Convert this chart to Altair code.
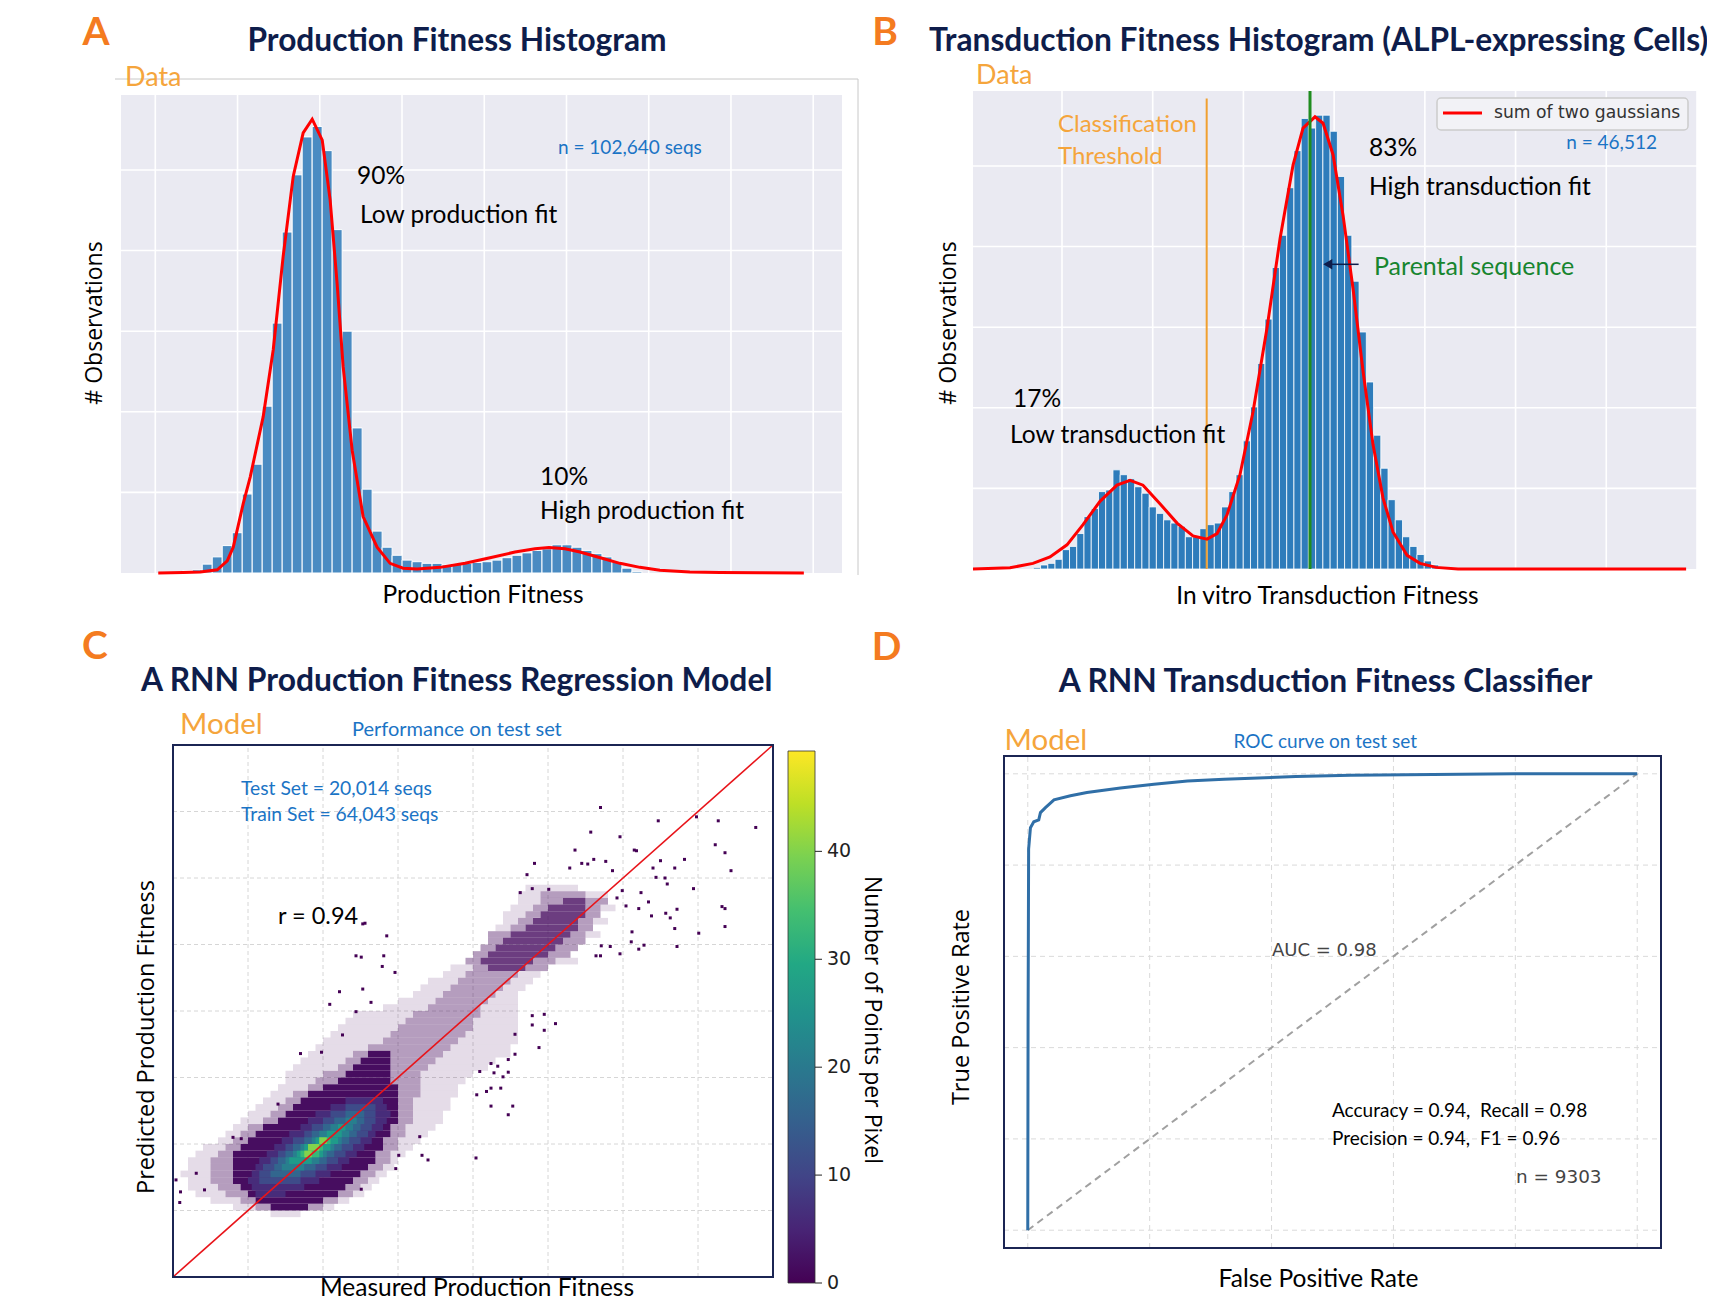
import altair as alt
import pandas as pd

# =====================================================================
# Panel A - production fitness histogram (x and y in grid units)
# =====================================================================
A_BIN_START = 0.085
A_BIN_WIDTH = 0.1215
A_COUNTS = [0.01, 0.015, 0.025, 0.04, 0.11, 0.20, 0.34, 0.50, 0.98, 1.35,
            2.07, 3.10, 4.23, 4.94, 5.41, 5.54, 5.24, 4.26, 3.00, 1.80,
            1.04, 0.52, 0.32, 0.22, 0.16, 0.14, 0.12, 0.12, 0.10, 0.11,
            0.12, 0.13, 0.14, 0.16, 0.19, 0.22, 0.25, 0.28, 0.30, 0.35,
            0.35, 0.32, 0.28, 0.24, 0.20, 0.14, 0.06, 0.02]
A_FIT_X = [0.036, 0.34, 0.547, 0.753, 0.875, 0.948, 1.069, 1.154, 1.312, 1.434,
           1.555, 1.677, 1.798, 1.908, 2.03, 2.126, 2.211, 2.284, 2.394, 2.527,
           2.697, 2.855, 3.013, 3.183, 3.463, 3.767, 4.07, 4.374, 4.617, 4.787,
           4.982, 5.164, 5.443, 5.65, 5.893, 6.136, 6.5, 6.865, 7.351, 7.886]
A_FIT_Y = [0, 0.005, 0.012, 0.04, 0.15, 0.32, 0.86, 1.19, 1.94, 2.77,
           3.93, 4.92, 5.46, 5.63, 5.37, 4.63, 3.59, 2.56, 1.52, 0.70,
           0.32, 0.12, 0.06, 0.05, 0.07, 0.12, 0.19, 0.26, 0.30, 0.315,
           0.30, 0.26, 0.18, 0.12, 0.07, 0.035, 0.012, 0.005, 0.002, 0.0]
A_GRID_X = [0, 1, 2, 3, 4, 5, 6, 7, 8]
A_GRID_Y = [1, 2, 3, 4, 5]
A_XDOM = [-0.417, 8.35]
A_YDOM = [0, 5.93]

# =====================================================================
# Panel B - transduction fitness histogram
# =====================================================================
B_BIN_START = -0.316
B_BIN_WIDTH = 0.0798
B_COUNTS = [0.02, 0.05, 0.07, 0.12, 0.24, 0.28, 0.44, 0.65, 0.75, 0.96,
            0.98, 1.23, 1.17, 1.12, 1.02, 0.94, 0.77, 0.69, 0.61, 0.57,
            0.53, 0.40, 0.40, 0.50, 0.55, 0.57, 0.77, 0.96, 1.17, 1.59,
            2.01, 2.55, 3.10, 3.74, 4.14, 4.73, 5.19, 5.59, 5.47, 5.63,
            5.63, 5.43, 4.87, 4.14, 3.57, 2.94, 2.32, 1.66, 1.25, 0.86,
            0.61, 0.40, 0.28, 0.18, 0.10, 0.05, 0.02]
B_FIT_X = [-0.981, -0.573, -0.32, -0.132, 0.055, 0.232, 0.419, 0.606, 0.750, 0.893,
           1.080, 1.268, 1.444, 1.599, 1.709, 1.819, 1.962, 2.106, 2.260, 2.404,
           2.547, 2.657, 2.789, 2.878, 2.988, 3.098, 3.208, 3.319, 3.429, 3.539,
           3.649, 3.804, 3.947, 4.123, 4.366, 4.829, 5.932, 6.880]
B_FIT_Y = [0, 0.015, 0.07, 0.15, 0.30, 0.55, 0.84, 1.04, 1.10, 1.04,
           0.81, 0.57, 0.41, 0.37, 0.44, 0.67, 1.17, 1.95, 2.99, 4.10,
           5.01, 5.47, 5.61, 5.53, 5.14, 4.39, 3.48, 2.45, 1.54, 0.88,
           0.46, 0.17, 0.07, 0.02, 0.0, 0.0, 0.0, 0.0]
B_THRESHOLD_X = 1.595
B_THRESHOLD_TOP = 5.836
B_PARENT_X = 2.734
B_ARROW_X = [3.27, 2.93]
B_ARROW_Y = 3.78
B_GRID_X = [0, 1, 2, 3, 4, 5, 6, 7]
B_GRID_Y = [1, 2, 3, 4, 5]
B_XDOM = [-0.981, 7.0]
B_YDOM = [0, 5.93]

# =====================================================================
# Panel C - 2D density (runs of 0.1-high cells: (y_bottom, x_start, x_end))
# =====================================================================
C_SPARSE = [
    (4.8, 3.7, 4.4), (4.7, 3.6, 3.9), (4.7, 4.5, 4.8), (4.6, 3.6, 3.9),
    (4.5, 3.5, 3.8), (4.5, 4.7, 4.9), (4.4, 3.4, 3.7), (4.3, 3.4, 3.6),
    (4.3, 4.6, 4.8), (4.2, 3.3, 3.5), (4.1, 4.5, 4.7), (3.7, 4.1, 4.4),
    (3.6, 2.7, 3.0), (3.5, 2.6, 2.9), (3.5, 3.6, 3.9), (3.4, 2.4, 2.8),
    (3.4, 3.5, 3.8), (3.3, 2.3, 2.7), (3.3, 3.4, 3.7), (3.2, 2.2, 2.6),
    (3.2, 3.3, 3.6), (3.1, 2.0, 2.5), (3.1, 3.2, 3.6), (3.0, 1.8, 2.4),
    (3.0, 3.1, 3.6), (2.9, 1.4, 2.2), (2.9, 3.1, 3.6), (2.8, 1.3, 2.1),
    (2.8, 3.0, 3.6), (2.7, 1.2, 2.0), (2.7, 3.0, 3.6), (2.6, 1.1, 1.9),
    (2.6, 2.9, 3.6), (2.5, 1.0, 1.8), (2.5, 2.8, 3.6), (2.4, 0.9, 1.6),
    (2.4, 2.7, 3.5), (2.3, 0.8, 1.4), (2.3, 2.6, 3.5), (2.2, 0.7, 1.3),
    (2.2, 2.5, 3.3), (2.1, 0.6, 1.2), (2.1, 2.4, 3.2), (2.0, 0.5, 1.0),
    (2.0, 2.3, 3.0), (1.9, 0.5, 0.9), (1.9, 2.3, 2.9), (1.8, 0.4, 0.8),
    (1.8, 2.3, 2.8), (1.7, 0.3, 0.6), (1.7, 2.3, 2.8), (1.6, 0.2, 0.5),
    (1.6, 2.2, 2.7), (1.5, 0.1, 0.4), (1.5, 2.2, 2.7), (1.4, 0.0, 0.3),
    (1.4, 2.2, 2.6), (1.3, -0.1, 0.2), (1.3, 2.2, 2.6), (1.2, -0.2, 0.0),
    (1.2, 2.1, 2.5), (1.1, -0.3, -0.1), (1.1, 2.1, 2.4), (1.0, -0.4, -0.2),
    (1.0, 2.0, 2.3), (0.9, -0.6, -0.3), (0.9, 2.0, 2.2), (0.8, -0.7, -0.4),
    (0.8, 1.9, 2.1), (0.7, -0.8, -0.5), (0.7, 1.9, 2.0), (0.6, -0.8, -0.5),
    (0.6, 1.8, 1.95), (0.5, -0.9, -0.5), (0.5, 1.7, 1.85), (0.4, -0.8, -0.5),
    (0.4, 1.6, 1.75), (0.3, -0.8, -0.4), (0.3, 1.5, 1.65), (0.2, -0.7, -0.3),
    (0.2, 1.4, 1.55), (0.1, -0.5, -0.1), (0.1, 1.2, 1.35), (0.0, -0.2, 0.1),
    (0.0, 1.0, 1.15), (-0.1, 0.3, 0.7),
]
C_MEDIUM = [
    (4.7, 3.9, 4.5), (4.6, 3.9, 4.2), (4.6, 4.5, 4.8), (4.5, 3.8, 4.0),
    (4.5, 4.5, 4.7), (4.4, 3.7, 3.9), (4.4, 4.5, 4.7), (4.3, 3.6, 3.8),
    (4.3, 4.4, 4.6), (4.2, 3.5, 3.7), (4.2, 4.4, 4.6), (4.1, 3.2, 3.5),
    (4.1, 4.3, 4.5), (4.0, 3.2, 3.4), (4.0, 4.2, 4.5), (3.9, 3.1, 3.3),
    (3.9, 4.1, 4.4), (3.8, 3.0, 3.2), (3.8, 4.0, 4.3), (3.7, 2.9, 3.1),
    (3.7, 3.8, 4.1), (3.6, 3.0, 3.2), (3.6, 3.7, 4.0), (3.5, 2.9, 3.6),
    (3.4, 2.8, 3.5), (3.3, 2.7, 3.4), (3.2, 2.6, 3.3), (3.1, 2.5, 3.2),
    (3.0, 2.4, 3.1), (2.9, 2.2, 3.1), (2.8, 2.1, 3.0), (2.7, 2.0, 3.0),
    (2.6, 1.9, 2.9), (2.5, 1.8, 2.8), (2.4, 1.6, 2.7), (2.3, 1.4, 1.6),
    (2.3, 1.9, 2.6), (2.2, 1.3, 1.5), (2.2, 1.9, 2.5), (2.1, 1.2, 1.4),
    (2.1, 1.9, 2.4), (2.0, 1.0, 1.3), (2.0, 1.9, 2.3), (1.9, 0.9, 1.2),
    (1.9, 1.9, 2.3), (1.8, 0.8, 1.0), (1.8, 2.0, 2.3), (1.7, 0.6, 0.8),
    (1.7, 2.0, 2.3), (1.6, 0.5, 0.7), (1.6, 2.0, 2.2), (1.5, 0.4, 0.6),
    (1.5, 2.0, 2.2), (1.4, 0.3, 0.5), (1.4, 2.0, 2.2), (1.3, 0.2, 0.4),
    (1.3, 2.0, 2.2), (1.2, 0.0, 0.2), (1.2, 1.9, 2.1), (1.1, -0.1, 0.1),
    (1.1, 1.9, 2.1), (1.0, -0.2, 0.0), (1.0, 1.8, 2.0), (0.9, -0.3, -0.1),
    (0.9, 1.8, 2.0), (0.8, -0.4, -0.2), (0.8, 1.7, 1.9), (0.7, -0.5, -0.2),
    (0.7, 1.7, 1.9), (0.6, -0.5, -0.2), (0.6, 1.6, 1.8), (0.5, -0.5, -0.2),
    (0.5, 1.5, 1.7), (0.4, -0.5, -0.2), (0.4, 1.4, 1.6), (0.3, -0.4, -0.1),
    (0.3, 1.3, 1.5), (0.2, -0.3, 0.0), (0.2, 1.2, 1.4), (0.1, -0.1, 0.1),
    (0.1, 1.0, 1.2), (0.0, 0.1, 0.3), (0.0, 0.8, 1.0),
]
C_UPPER_CORE = [
    (4.6, 4.2, 4.5), (4.5, 4.0, 4.5), (4.4, 3.9, 4.5), (4.3, 3.8, 4.4),
    (4.2, 3.7, 4.4), (4.1, 3.5, 4.3), (4.0, 3.4, 4.2), (3.9, 3.3, 4.1),
    (3.8, 3.2, 4.0), (3.7, 3.1, 3.8), (3.6, 3.2, 3.7),
]
C_SOLID = [
    (2.3, 1.6, 1.9), (2.2, 1.5, 1.9), (2.1, 1.4, 1.9), (2.0, 1.3, 1.9),
    (1.9, 1.2, 1.9), (1.8, 1.0, 2.0), (1.7, 0.8, 2.0), (1.6, 0.7, 2.0),
    (1.5, 0.6, 2.0), (1.4, 0.5, 2.0), (1.3, 0.4, 2.0), (1.2, 0.2, 1.9),
    (1.1, 0.1, 1.9), (1.0, 0.0, 1.8), (0.9, -0.1, 1.8), (0.8, -0.2, 1.7),
    (0.7, -0.2, 1.7), (0.6, -0.2, 1.6), (0.5, -0.2, 1.5), (0.4, -0.2, 1.4),
    (0.3, -0.1, 1.3), (0.2, 0.0, 1.2), (0.1, 0.1, 1.0), (0.0, 0.3, 0.8),
]
C_LEVEL1 = [(1.6, 1.3, 1.8), (1.5, 1.1, 1.85), (1.4, 0.9, 1.9), (1.3, 0.8, 1.85),
            (1.2, 0.7, 1.8), (1.1, 0.55, 1.7), (1.0, 0.45, 1.65), (0.9, 0.35, 1.55),
            (0.8, 0.25, 1.45), (0.7, 0.15, 1.35), (0.6, 0.1, 1.25), (0.5, 0.05, 1.1),
            (0.4, 0.0, 0.95), (0.3, 0.05, 0.75), (0.2, 0.1, 0.5)]
C_LEVEL2 = [(1.5, 1.3, 1.7), (1.4, 1.1, 1.7), (1.3, 1.0, 1.7), (1.2, 0.85, 1.65),
            (1.1, 0.75, 1.6), (1.0, 0.6, 1.5), (0.9, 0.5, 1.4), (0.8, 0.4, 1.3),
            (0.7, 0.3, 1.2), (0.6, 0.2, 1.05), (0.5, 0.15, 0.9), (0.4, 0.15, 0.7)]
C_LEVEL3 = [(1.4, 1.3, 1.55), (1.3, 1.15, 1.55), (1.2, 1.0, 1.5), (1.1, 0.85, 1.45),
            (1.0, 0.75, 1.35), (0.9, 0.6, 1.25), (0.8, 0.5, 1.15), (0.7, 0.4, 1.05),
            (0.6, 0.35, 0.9), (0.5, 0.3, 0.7)]
C_LEVEL4 = [(1.3, 1.3, 1.45), (1.2, 1.1, 1.4), (1.1, 0.95, 1.35), (1.0, 0.85, 1.25),
            (0.9, 0.7, 1.15), (0.8, 0.6, 1.05), (0.7, 0.5, 0.95), (0.6, 0.45, 0.75)]
C_LEVEL5 = [(1.2, 1.2, 1.3), (1.1, 1.05, 1.25), (1.0, 0.9, 1.2), (0.9, 0.75, 1.1),
            (0.8, 0.65, 1.0), (0.7, 0.55, 0.85)]
C_LEVEL6 = [(1.0, 0.95, 1.1), (0.9, 0.8, 1.0), (0.8, 0.7, 0.95)]
C_LEVEL7 = [(1.0, 0.95, 1.05), (0.9, 0.8, 0.95), (0.8, 0.75, 0.85)]
C_LEVEL_COUNTS = [1, 1, 1.5, 1.5, 6, 11, 16, 21, 27, 33, 40]
C_LEVEL_ALPHA = [0.14, 0.4, 0.8, 1, 1, 1, 1, 1, 1, 1, 1]

C_POINTS_X = [5.47, 5.98, 6.27, 6.77, 6.23, 6.36, 6.44, 5.82, 5.50, 5.69, 5.40, 5.44, 5.56,
              5.59, 5.94, 5.24, 5.34, 5.72, 5.57, 5.63, 5.38, 5.21, 5.04, 4.92, 6.32, 6.36,
              6.36, 6.01, 5.69, 5.12, 5.28, 5.21, 5.72, 4.96, 5.11, 4.83, 4.71, 4.70, 4.64,
              5.18, 5.15, 4.96, 4.70, 4.57, 4.36, 3.82, 3.72, 3.63, 3.79, 4.01, 4.29, 4.45,
              4.53, 4.61, 4.77, 4.86, 4.99,
              1.56, 1.53, 1.85, 1.44, 1.51, 1.81, 1.79, 1.96, 1.22, 1.53, 1.09, 1.64,
              3.79, 3.95, 3.79, 4.10, 3.95, 3.88, 3.56, 3.56, 3.47, 3.47, 3.40, 3.24, 3.53,
              3.47, 3.37, 3.24, 3.18, 3.05, 3.04, 3.09, 3.28, 3.33, 3.24,
              -0.96, -0.90, -0.91, -0.69, -0.58, -0.20, -0.09, 0.40, 0.70, 0.98, 1.26,
              1.44, 2.01, 2.32, 2.40, 1.97, 1.51, 2.29]
C_POINTS_Y = [5.86, 5.92, 5.86, 5.76, 5.50, 5.38, 5.11, 5.28, 5.26, 5.15, 5.15, 5.01, 5.00,
              4.91, 4.84, 4.78, 4.64, 4.53, 4.47, 4.40, 4.43, 4.54, 4.58, 4.70, 4.57, 4.54,
              4.27, 4.17, 4.24, 4.19, 3.99, 3.93, 3.97, 3.86, 4.04, 3.97, 3.98, 3.83, 3.83,
              5.41, 5.42, 5.62, 6.06, 5.69, 5.42, 5.22, 5.05, 4.78, 4.84, 4.83, 5.15, 5.22,
              5.21, 5.28, 5.25, 5.11, 4.81,
              4.32, 4.31, 4.13, 3.83, 3.81, 3.83, 3.67, 3.58, 3.29, 3.33, 3.10, 3.13,
              2.93, 2.95, 2.79, 2.81, 2.71, 2.45, 2.65, 2.35, 2.27, 2.08, 2.01, 1.57, 1.57,
              1.44, 1.84, 1.84, 1.79, 1.74, 0.79, 2.09, 2.07, 2.17, 2.21,
              0.46, 0.28, 0.12, 0.56, 0.31, 1.10, 1.08, 1.60, 2.36, 2.38, 2.64,
              2.99, 0.83, 0.83, 0.76, 0.63, 0.32, 1.11]
C_DIAGONAL = [-1, 7]
C_GRID = [0, 1, 2, 3, 4, 5, 6]
C_DOM = [-1, 7]
CBAR_MAX = 49.3
CBAR_TICKS = [0, 10, 20, 30, 40]
VIRIDIS = ["#440154", "#482475", "#414487", "#355f8d", "#2a788e", "#21918c",
           "#22a884", "#44bf70", "#7ad151", "#bddf26", "#fde725"]

# =====================================================================
# Panel D - ROC curve
# =====================================================================
ROC_FPR = [0.0, 0.0005, 0.0014, 0.0044, 0.0099, 0.018, 0.0208, 0.029, 0.043, 0.070,
           0.097, 0.152, 0.207, 0.262, 0.322, 0.44, 0.53, 0.62, 0.80, 1.0]
ROC_TPR = [0.0, 0.45, 0.835, 0.882, 0.895, 0.899, 0.915, 0.926, 0.943, 0.952,
           0.959, 0.969, 0.977, 0.984, 0.988, 0.994, 0.997, 0.998, 1.0, 1.0]
CHANCE = [0, 1]
D_GRID = [0, 0.2, 0.4, 0.6, 0.8, 1.0]
D_DOM = [-0.039, 1.039]

# =====================================================================
# Styling / panel placement (pixels in the single canvas)
# =====================================================================
NAVY = "#0e1d4b"
LETTER_ORANGE = "#f47b20"
SOFT_ORANGE = "#f5a53c"
TXT_BLUE = "#1b74c5"
FRAME = "#1b2553"
W, H = 1699, 1294
ONE = pd.DataFrame({"k": [0]})
NB = "\u00a0"


def sc(domain, rng):
    return alt.Scale(domain=domain, range=rng, nice=False, zero=False)


A_X, A_Y = sc(A_XDOM, [113, 834]), sc(A_YDOM, [565, 87])
B_X, B_Y = sc(B_XDOM, [965, 1689]), sc(B_YDOM, [561, 83])
C_X, C_Y = sc(C_DOM, [165, 765]), sc(C_DOM, [1269, 737])
CB_Y = sc([0, CBAR_MAX], [1275, 743])
D_X, D_Y = sc(D_DOM, [996, 1653]), sc(D_DOM, [1240, 748])


def txt(text, x, y, size, color="#000000", font="Lato", weight="normal",
        align="left", angle=0):
    return alt.Chart(ONE).mark_text(
        text=text, font=font, fontSize=size, color=color, fontWeight=weight,
        align=align, baseline="middle", angle=angle
    ).encode(x=alt.value(x), y=alt.value(y))


def box(x1, x2, y1, y2, **kw):
    return alt.Chart(ONE).mark_rect(**kw).encode(
        x=alt.value(x1), x2=alt.value(x2), y=alt.value(y1), y2=alt.value(y2))


def vgrid(vals, xs, ys, ydom, **kw):
    df = pd.DataFrame({"g": vals, "lo": ydom[0], "hi": ydom[1]})
    return alt.Chart(df).mark_rule(**kw).encode(
        x=alt.X("g:Q", scale=xs, axis=None), y=alt.Y("lo:Q", scale=ys, axis=None), y2="hi:Q")


def hgrid(vals, xs, ys, xdom, **kw):
    df = pd.DataFrame({"g": vals, "lo": xdom[0], "hi": xdom[1]})
    return alt.Chart(df).mark_rule(**kw).encode(
        y=alt.Y("g:Q", scale=ys, axis=None), x=alt.X("lo:Q", scale=xs, axis=None), x2="hi:Q")


def xy(xs, ys, xf="x", yf="y"):
    return dict(x=alt.X(f"{xf}:Q", scale=xs, axis=None), y=alt.Y(f"{yf}:Q", scale=ys, axis=None))


layers = []

# ---------------------------- Panel A ----------------------------------
a_bars = pd.DataFrame({
    "x0": [A_BIN_START + i * A_BIN_WIDTH for i in range(len(A_COUNTS))],
    "n": A_COUNTS,
})
a_bars["x1"] = a_bars["x0"] + A_BIN_WIDTH
a_bars["z"] = 0
layers += [
    box(113, 834, 87, 565, color="#EAEAF2"),
    vgrid(A_GRID_X, A_X, A_Y, A_YDOM, color="white", strokeWidth=1.6),
    hgrid(A_GRID_Y, A_X, A_Y, A_XDOM, color="white", strokeWidth=1.6),
    alt.Chart(a_bars).mark_rect(color="#4a8bc2", stroke="white", strokeWidth=1)
    .encode(x=alt.X("x0:Q", scale=A_X, axis=None), x2="x1:Q",
            y=alt.Y("n:Q", scale=A_Y, axis=None), y2="z:Q"),
    alt.Chart(pd.DataFrame({"x": A_FIT_X, "y": A_FIT_Y})).mark_line(color="#ff0000", strokeWidth=3)
    .encode(**xy(A_X, A_Y)),
    alt.Chart(ONE).mark_rule(color="#c8c8c8", strokeWidth=1)
    .encode(x=alt.value(107), x2=alt.value(850), y=alt.value(71)),
    alt.Chart(ONE).mark_rule(color="#c8c8c8", strokeWidth=1)
    .encode(x=alt.value(850), y=alt.value(71), y2=alt.value(567)),
    txt("A", 88, 25, 39, LETTER_ORANGE, weight="bold", align="center"),
    txt("Production Fitness Histogram", 449, 33, 31.7, NAVY, weight="bold", align="center"),
    txt("Data", 117, 70, 27, SOFT_ORANGE),
    txt("n = 102,640 seqs", 550, 140, 19, TXT_BLUE),
    txt("90%", 349, 169, 24.5),
    txt("Low production fit", 352, 208, 24.5),
    txt("10%", 532, 470, 24.5),
    txt("High production fit", 532, 504, 24.5),
    txt("Production Fitness", 475, 588, 24.5, align="center"),
    txt("# Observations", 86.5, 315, 23, font="Open Sans", align="center", angle=270),
]

# ---------------------------- Panel B ----------------------------------
b_bars = pd.DataFrame({
    "x0": [B_BIN_START + i * B_BIN_WIDTH for i in range(len(B_COUNTS))],
    "n": B_COUNTS,
})
b_bars["x1"] = b_bars["x0"] + B_BIN_WIDTH
b_bars["z"] = 0
layers += [
    box(965, 1689, 83, 561, color="#EAEAF2"),
    vgrid(B_GRID_X, B_X, B_Y, B_YDOM, color="white", strokeWidth=1.6),
    hgrid(B_GRID_Y, B_X, B_Y, B_XDOM, color="white", strokeWidth=1.6),
    alt.Chart(b_bars).mark_rect(color="#2e7cbb", stroke="white", strokeWidth=0.8)
    .encode(x=alt.X("x0:Q", scale=B_X, axis=None), x2="x1:Q",
            y=alt.Y("n:Q", scale=B_Y, axis=None), y2="z:Q"),
    alt.Chart(pd.DataFrame({"x": [B_THRESHOLD_X], "y0": [0], "y1": [B_THRESHOLD_TOP]}))
    .mark_rule(color="#f0a030", strokeWidth=2)
    .encode(x=alt.X("x:Q", scale=B_X, axis=None), y=alt.Y("y0:Q", scale=B_Y, axis=None), y2="y1:Q"),
    alt.Chart(pd.DataFrame({"x": B_FIT_X, "y": B_FIT_Y})).mark_line(color="#ff0000", strokeWidth=3)
    .encode(**xy(B_X, B_Y)),
    alt.Chart(pd.DataFrame({"x": [B_PARENT_X], "y0": [B_YDOM[0]], "y1": [B_YDOM[1]]}))
    .mark_rule(color="#1f8c1f", strokeWidth=3)
    .encode(x=alt.X("x:Q", scale=B_X, axis=None), y=alt.Y("y0:Q", scale=B_Y, axis=None), y2="y1:Q"),
    alt.Chart(pd.DataFrame({"x0": [B_ARROW_X[0]], "x1": [B_ARROW_X[1]], "y": [B_ARROW_Y]}))
    .mark_rule(color=NAVY, strokeWidth=1.5)
    .encode(x=alt.X("x0:Q", scale=B_X, axis=None), x2="x1:Q", y=alt.Y("y:Q", scale=B_Y, axis=None)),
    alt.Chart(pd.DataFrame({"x": [B_ARROW_X[1]], "y": [B_ARROW_Y]}))
    .mark_point(shape="triangle-left", filled=True, color=NAVY, size=110, opacity=1)
    .encode(**xy(B_X, B_Y)),
    box(1429, 1680, 90, 122, fill="#f2f2f6", stroke="#cccccc", strokeWidth=1.5, cornerRadius=4),
    alt.Chart(ONE).mark_rule(color="#ff0000", strokeWidth=3)
    .encode(x=alt.value(1435), x2=alt.value(1474), y=alt.value(105)),
    txt("sum of two gaussians", 1486, 105, 17.2, "#333333", font="DejaVu Sans"),
    txt("B", 877, 25, 39, LETTER_ORANGE, weight="bold", align="center"),
    txt("Transduction Fitness Histogram (ALPL-expressing Cells)", 921, 33, 31.7, NAVY, weight="bold"),
    txt("Data", 968, 67.5, 27, SOFT_ORANGE),
    txt("Classification", 1050, 117, 24, SOFT_ORANGE),
    txt("Threshold", 1050, 148.5, 24, SOFT_ORANGE),
    txt("83%", 1361, 141, 24.5),
    txt("High transduction fit", 1361, 179.5, 24.5),
    txt("Parental sequence", 1366, 258.5, 25, "#17852f"),
    txt("n = 46,512", 1649, 134.5, 19, TXT_BLUE, align="right"),
    txt("17%", 1005, 392, 24.5),
    txt("Low transduction fit", 1002, 428, 24.5),
    txt("In vitro Transduction Fitness", 1319.5, 589, 24.5, align="center"),
    txt("# Observations", 941, 315, 23, font="Open Sans", align="center", angle=270),
]

# ---------------------------- Panel C ----------------------------------
c_groups = [C_SPARSE, C_MEDIUM, C_UPPER_CORE, C_SOLID, C_LEVEL1, C_LEVEL2,
            C_LEVEL3, C_LEVEL4, C_LEVEL5, C_LEVEL6, C_LEVEL7]
rows = []
for gi, grp in enumerate(c_groups):
    for (y0, x0, x1) in grp:
        rows.append({"x0": x0, "x1": x1, "y0": y0, "y1": round(y0 + 0.1, 3),
                     "v": C_LEVEL_COUNTS[gi], "a": C_LEVEL_ALPHA[gi]})
c_cells = pd.DataFrame(rows)
layers += [
    box(165, 765, 737, 1269, color="white"),
    vgrid(C_GRID, C_X, C_Y, C_DOM, color="#d6d6d6", strokeDash=[4, 3], strokeWidth=1),
    hgrid(C_GRID, C_X, C_Y, C_DOM, color="#d6d6d6", strokeDash=[4, 3], strokeWidth=1),
    alt.Chart(c_cells).mark_rect()
    .encode(x=alt.X("x0:Q", scale=C_X, axis=None), x2="x1:Q",
            y=alt.Y("y0:Q", scale=C_Y, axis=None), y2="y1:Q",
            color=alt.Color("v:Q", scale=alt.Scale(scheme="viridis", domain=[0, CBAR_MAX]), legend=None),
            opacity=alt.Opacity("a:Q", scale=None)),
    alt.Chart(pd.DataFrame({"x": C_POINTS_X, "y": C_POINTS_Y}))
    .mark_square(size=9, color="#440154", opacity=1)
    .encode(**xy(C_X, C_Y)),
    alt.Chart(pd.DataFrame({"x": C_DIAGONAL, "y": C_DIAGONAL})).mark_line(color="#e8141a", strokeWidth=1.6)
    .encode(**xy(C_X, C_Y)),
    box(165, 765, 737, 1269, fillOpacity=0, stroke=FRAME, strokeWidth=2),
    txt("C", 87, 638.5, 39, LETTER_ORANGE, weight="bold", align="center"),
    txt("A RNN Production Fitness Regression Model", 448.6, 673, 31.8, NAVY, weight="bold", align="center"),
    txt("Model", 172, 716.5, 29.5, SOFT_ORANGE),
    txt("Performance on test set", 344, 722, 20, TXT_BLUE),
    txt("Test Set = 20,014 seqs", 233, 780.5, 19.3, TXT_BLUE),
    txt("Train Set = 64,043 seqs", 233, 806.5, 19.3, TXT_BLUE),
    txt("r = 0.94", 270, 908.5, 23.5),
    txt("Measured Production Fitness", 469, 1281, 24.5, align="center"),
    txt("Predicted Production Fitness", 139, 1029, 23.5, font="Open Sans", align="center", angle=270),
]

# ---------------------------- Colorbar ----------------------------------
grad = alt.LinearGradient(
    gradient="linear",
    stops=[alt.GradientStop(offset=i / (len(VIRIDIS) - 1), color=c) for i, c in enumerate(VIRIDIS)],
    x1=0, y1=1, x2=0, y2=0)
cb_df = pd.DataFrame({"lo": [0], "hi": [CBAR_MAX]})
cb_ticks = pd.DataFrame({"t": CBAR_TICKS})
layers += [
    alt.Chart(cb_df).mark_rect(color=grad)
    .encode(x=alt.value(780), x2=alt.value(807),
            y=alt.Y("lo:Q", scale=CB_Y, axis=None), y2="hi:Q"),
    alt.Chart(cb_df).mark_rect(fillOpacity=0, stroke="#333333", strokeWidth=0.8)
    .encode(x=alt.value(780), x2=alt.value(807),
            y=alt.Y("lo:Q", scale=CB_Y, axis=None), y2="hi:Q"),
    alt.Chart(cb_ticks).mark_rule(color="#222222", strokeWidth=1)
    .encode(x=alt.value(807), x2=alt.value(814), y=alt.Y("t:Q", scale=CB_Y, axis=None)),
    alt.Chart(cb_ticks).mark_text(align="left", baseline="middle", font="DejaVu Sans",
                                  fontSize=19, color="#222222")
    .encode(x=alt.value(819), y=alt.Y("t:Q", scale=CB_Y, axis=None), text="t:Q"),
    txt("Number of Points per Pixel", 864, 1012, 23, font="Open Sans", align="center", angle=90),
]

# ---------------------------- Panel D ----------------------------------
roc = pd.DataFrame({"x": ROC_FPR, "y": ROC_TPR, "i": list(range(len(ROC_FPR)))})
layers += [
    box(996, 1653, 748, 1240, color="white"),
    vgrid(D_GRID, D_X, D_Y, D_DOM, color="#dadada", strokeDash=[5, 4], strokeWidth=1),
    hgrid(D_GRID, D_X, D_Y, D_DOM, color="#dadada", strokeDash=[5, 4], strokeWidth=1),
    alt.Chart(pd.DataFrame({"x": CHANCE, "y": CHANCE}))
    .mark_line(color="#a0a0a0", strokeDash=[7, 5], strokeWidth=2)
    .encode(**xy(D_X, D_Y)),
    alt.Chart(roc).mark_line(color="#306fa7", strokeWidth=3)
    .encode(**xy(D_X, D_Y), order=alt.Order("i:Q")),
    box(996, 1653, 748, 1240, fillOpacity=0, stroke=FRAME, strokeWidth=2),
    txt("D", 878.5, 640, 39, LETTER_ORANGE, weight="bold", align="center"),
    txt("A RNN Transduction Fitness Classifier", 1317.5, 673.5, 31.8, NAVY, weight="bold", align="center"),
    txt("Model", 996.5, 732.5, 29.5, SOFT_ORANGE),
    txt("ROC curve on test set", 1225.5, 734, 19, TXT_BLUE),
    txt("AUC = 0.98", 1264, 943, 18, "#444444", font="DejaVu Sans"),
    txt("Accuracy = 0.94," + NB + " Recall = 0.98", 1324, 1103, 19),
    txt("Precision = 0.94," + NB + " F1 = 0.96", 1324, 1131, 19),
    txt("n = 9303", 1508, 1169, 18.4, "#444444", font="DejaVu Sans"),
    txt("False Positive Rate", 1310.5, 1272, 24.5, align="center"),
    txt("True Positive Rate", 953.7, 999, 23.5, font="Open Sans", align="center", angle=270),
]

chart = alt.layer(*layers).resolve_scale(
    x="independent", y="independent", color="independent", opacity="independent"
).properties(
    width=W, height=H,
    autosize=alt.AutoSizeParams(type="none"),
    padding={"left": 0, "top": 0, "right": 0, "bottom": 0},
).configure_view(stroke="transparent")

chart.save("out.html", embed_options={"renderer": "svg", "actions": False})
